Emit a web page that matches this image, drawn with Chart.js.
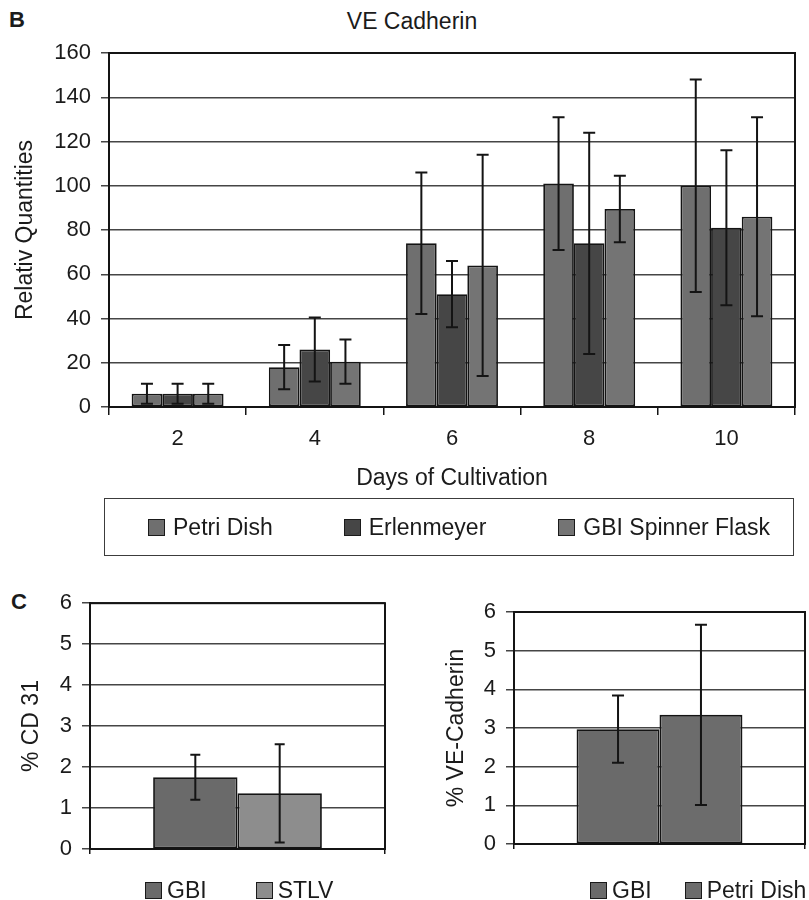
<!DOCTYPE html>
<html>
<head>
<meta charset="utf-8">
<script src="https://cdn.jsdelivr.net/npm/chart.js@4.4.1/dist/chart.umd.min.js"></script>
<style>
  html, body { margin:0; padding:0; background:#ffffff; width:809px; height:900px; overflow:hidden;
    font-family:"Liberation Sans", Arial, sans-serif; color:#1b1b1b; }
  canvas { position:absolute; }
  .panel-label { position:absolute; font-weight:bold; font-size:22px; line-height:22px; }
  .title { position:absolute; font-size:23px; line-height:26px; white-space:nowrap; transform:translateX(-50%); }
  .legend { position:absolute; display:flex; align-items:center; font-size:23px; line-height:26px; white-space:nowrap; box-sizing:border-box; }
  .legend .item { display:flex; align-items:center; }
  .legend .sw { width:17px; height:17px; box-sizing:border-box; border:1.5px solid #1a1a1a; }
</style>
</head>
<body>
<div class="panel-label" style="left:9px; top:9px;">B</div>
<div class="title" id="titleB" style="left:412px; top:8px;"></div>
<canvas id="chartB" width="809" height="500" style="left:0; top:0;"></canvas>
<div class="legend" id="legendB" style="left:104px; top:498px; width:690px; height:58px; border:1.5px solid #3c3c3c; padding-left:43px;"></div>

<div class="panel-label" style="left:11px; top:591px;">C</div>
<canvas id="chartC1" width="400" height="320" style="left:0; top:580px;"></canvas>
<div class="legend" id="legendC1" style="left:145px; top:877px; height:26px;"></div>
<canvas id="chartC2" width="409" height="320" style="left:400px; top:580px;"></canvas>
<div class="legend" id="legendC2" style="left:590px; top:877px; height:26px;"></div>

<script>
// ---------- Data ----------
const chartTitleB = 'VE Cadherin';
const days = ['2', '4', '6', '8', '10'];
const petriDish     = [6, 18, 74, 101, 100];
const petriDishErr  = [4.5, 10, 32, 30, 48];
const erlenmeyer    = [6, 26, 51, 74, 81];
const erlenmeyerErr = [4.5, 14.5, 15, 50, 35];
const gbiSpinner    = [6, 20.5, 64, 89.5, 86];
const gbiSpinnerErr = [4.5, 10, 50, 15, 45];
const seriesNamesB = ['Petri Dish', 'Erlenmeyer', 'GBI Spinner Flask'];

const cd31Groups = ['GBI', 'STLV'];
const cd31Values = [1.75, 1.36];
const cd31Err    = [0.55, 1.2];

const veGroups = ['GBI', 'Petri Dish'];
const veValues = [2.97, 3.34];
const veErr    = [0.87, 2.33];

// ---------- Plugins ----------
const errorBars = {
  id: 'errorBars',
  afterDatasetsDraw(chart, args, opts) {
    const ctx = chart.ctx, yScale = chart.scales.y;
    const cap = opts.cap || 6;
    chart.data.datasets.forEach((ds, i) => {
      const meta = chart.getDatasetMeta(i);
      if (!ds.errors || meta.hidden) return;
      meta.data.forEach((bar, j) => {
        const v = ds.data[j], e = ds.errors[j];
        const yt = yScale.getPixelForValue(v + e);
        const yb = yScale.getPixelForValue(Math.max(v - e, 0));
        ctx.save();
        ctx.strokeStyle = '#141414';
        ctx.lineWidth = opts.width || 2;
        ctx.beginPath();
        ctx.moveTo(bar.x, yt); ctx.lineTo(bar.x, yb);
        ctx.moveTo(bar.x - cap, yt); ctx.lineTo(bar.x + cap, yt);
        ctx.moveTo(bar.x - cap, yb); ctx.lineTo(bar.x + cap, yb);
        ctx.stroke();
        ctx.restore();
      });
    });
  }
};
const frame = {
  id: 'frame',
  beforeDatasetsDraw(chart) {
    const {left, top, right, bottom} = chart.chartArea;
    const ctx = chart.ctx;
    ctx.save();
    ctx.strokeStyle = '#141414';
    ctx.lineWidth = 2;
    ctx.strokeRect(left, top, right - left, bottom - top);
    ctx.restore();
  }
};

const FONT = '"Liberation Sans", Arial, sans-serif';
Chart.defaults.font.family = FONT;
Chart.defaults.color = '#1b1b1b';

function baseOptions(cfg) {
  return {
    responsive: false,
    animation: false,
    devicePixelRatio: 1,
    layout: { padding: { left: 0, top: cfg.top, right: cfg.right, bottom: 0 } },
    plugins: {
      legend: { display: false },
      tooltip: { enabled: false },
      title: { display: false },
      errorBars: { cap: cfg.cap, width: 2 }
    },
    datasets: { bar: { categoryPercentage: cfg.catPct, barPercentage: 1.0 } },
    scales: {
      x: {
        grid: { display: true, drawOnChartArea: false, drawTicks: true, tickLength: cfg.xTick, color: '#141414', lineWidth: 1.5 },
        border: { display: true, color: '#141414', width: 2 },
        ticks: { display: cfg.xLabels, font: { size: 22 }, padding: 11, color: '#1b1b1b' },
        title: cfg.xTitle ? { display: true, text: cfg.xTitle, font: { size: 23 }, padding: { top: 0, bottom: 8 }, color: '#1b1b1b' } : { display: false },
        afterFit(s) { s.height = cfg.xHeight; }
      },
      y: {
        min: 0, max: cfg.yMax,
        grid: { color: '#454545', lineWidth: 1.5, drawTicks: true, tickLength: 8 },
        border: { display: true, color: '#141414', width: 2 },
        ticks: { stepSize: cfg.yStep, font: { size: 22 }, padding: 10, color: '#1b1b1b' },
        title: { display: true, text: cfg.yTitle, font: { size: 23 }, padding: { top: cfg.yTitlePad, bottom: 0 }, color: '#1b1b1b' },
        afterFit(s) { s.width = cfg.yWidth; }
      }
    }
  };
}

const barStyle = { borderColor: '#141414', borderWidth: 1.8, borderSkipped: false };

// ---------- Chart B ----------
const chartB = new Chart(document.getElementById('chartB'), {
  type: 'bar',
  data: {
    labels: days,
    datasets: [
      Object.assign({ label: seriesNamesB[0], data: petriDish, errors: petriDishErr, backgroundColor: '#6f6f6f' }, barStyle),
      Object.assign({ label: seriesNamesB[1], data: erlenmeyer, errors: erlenmeyerErr, backgroundColor: '#464646' }, barStyle),
      Object.assign({ label: seriesNamesB[2], data: gbiSpinner, errors: gbiSpinnerErr, backgroundColor: '#747474' }, barStyle)
    ]
  },
  options: baseOptions({ top: 53, right: 14, cap: 6, catPct: 0.67, xTick: 8, xLabels: true,
    xTitle: 'Days of Cultivation', xHeight: 93, yMax: 160, yStep: 20, yTitle: 'Relativ Quantities',
    yTitlePad: 12, yWidth: 109 }),
  plugins: [frame, errorBars]
});

// ---------- Chart C1 ----------
const chartC1 = new Chart(document.getElementById('chartC1'), {
  type: 'bar',
  data: {
    labels: [''],
    datasets: [
      Object.assign({ label: cd31Groups[0], data: [cd31Values[0]], errors: [cd31Err[0]], backgroundColor: '#6a6a6a' }, barStyle),
      Object.assign({ label: cd31Groups[1], data: [cd31Values[1]], errors: [cd31Err[1]], backgroundColor: '#8d8d8d' }, barStyle)
    ]
  },
  options: baseOptions({ top: 23, right: 15, cap: 5, catPct: 0.572, xTick: 5, xLabels: false,
    xTitle: null, xHeight: 51, yMax: 6, yStep: 1, yTitle: '% CD 31', yTitlePad: 18, yWidth: 90 }),
  plugins: [frame, errorBars]
});

// ---------- Chart C2 ----------
const chartC2 = new Chart(document.getElementById('chartC2'), {
  type: 'bar',
  data: {
    labels: [''],
    datasets: [
      Object.assign({ label: veGroups[0], data: [veValues[0]], errors: [veErr[0]], backgroundColor: '#6a6a6a' }, barStyle),
      Object.assign({ label: veGroups[1], data: [veValues[1]], errors: [veErr[1]], backgroundColor: '#6c6c6c' }, barStyle)
    ]
  },
  options: baseOptions({ top: 32, right: 4, cap: 6, catPct: 0.57, xTick: 5, xLabels: false,
    xTitle: null, xHeight: 56, yMax: 6, yStep: 1, yTitle: '% VE-Cadherin', yTitlePad: 43, yWidth: 114 }),
  plugins: [frame, errorBars]
});

// ---------- Title & HTML legends built from the chart data ----------
document.getElementById('titleB').textContent = chartTitleB;

function buildLegend(chart, id, gaps, textGap) {
  const box = document.getElementById(id);
  chart.data.datasets.forEach((ds, i) => {
    const item = document.createElement('div');
    item.className = 'item';
    if (i > 0) item.style.marginLeft = gaps[i - 1] + 'px';
    const sw = document.createElement('span');
    sw.className = 'sw';
    sw.style.background = ds.backgroundColor;
    const tx = document.createElement('span');
    tx.textContent = ds.label;
    tx.style.marginLeft = textGap + 'px';
    item.appendChild(sw); item.appendChild(tx);
    box.appendChild(item);
  });
}
buildLegend(chartB, 'legendB', [71, 72], 8);
buildLegend(chartC1, 'legendC1', [49], 5);
buildLegend(chartC2, 'legendC2', [33], 5);
</script>
</body>
</html>
